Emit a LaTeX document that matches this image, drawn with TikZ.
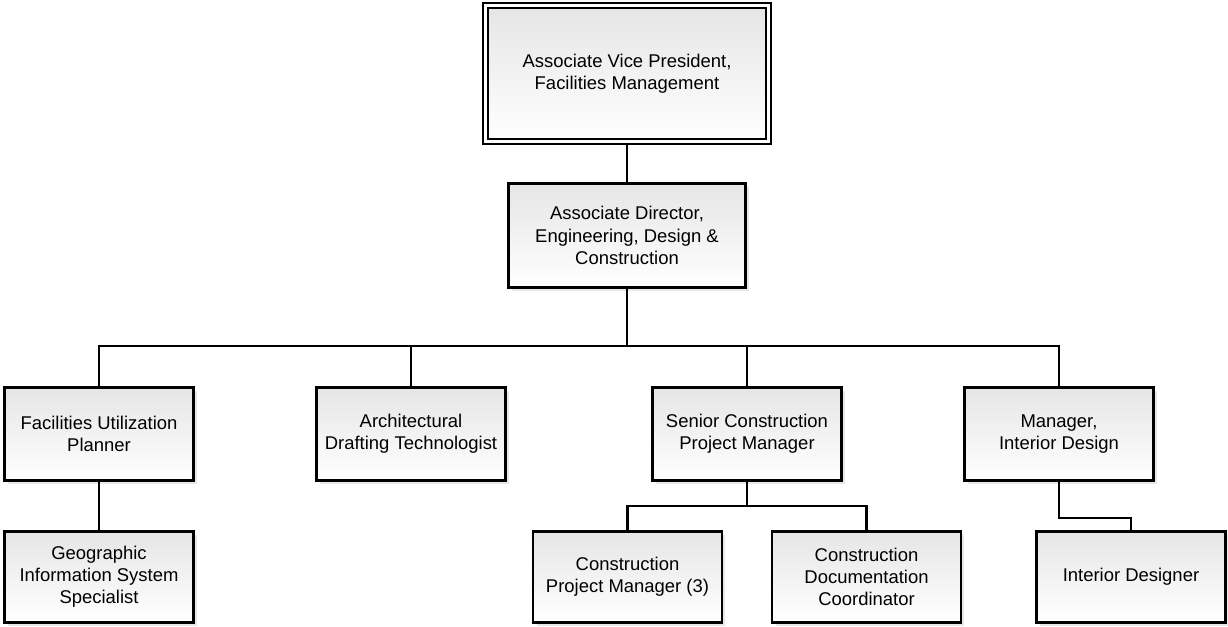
\documentclass[tikz,border=0pt]{standalone}
\usepackage{fontspec}
\setmainfont{Liberation Sans}
\usetikzlibrary{shadows}
\colorlet{box_top}{gray!20}
\colorlet{box_bottom}{white}
\colorlet{line_col}{black}
\tikzset{
  post/.style={draw=line_col, line width=1.6pt, top color=box_top, bottom color=box_bottom,
    align=center, font=\fontsize{10.5pt}{12.6pt}\selectfont, inner sep=2pt,
    minimum width=3.78cm, minimum height=1.86cm,
    drop shadow={shadow xshift=0.07cm, shadow yshift=-0.07cm, opacity=0.18}},
  head post/.style={double, line width=1.2pt, double distance=1.6pt,
    minimum width=5.66cm, minimum height=2.72cm},
  low post/.style={minimum height=1.82cm},
  link/.style={draw=line_col, line width=1.5pt},
}

\begin{document}
\begin{tikzpicture}[x=0.02cm, y=-0.02cm, line join=miter]
\useasboundingbox (0,0) rectangle (1228,626);

% Top of the chart
\node[post, head post] (avp) at (627,73.5) {Associate Vice President,\\Facilities Management};
\node[post, minimum width=4.74cm, minimum height=2.08cm] (ad) at (627,235.5) {Associate Director,\\Engineering, Design \&\\Construction};

%-----------------------------------------------
% Reports to the associate director
\node[post] (fup) at (99,434) {Facilities Utilization\\Planner};
\node[post] (adt) at (411,434) {Architectural\\Drafting Technologist};
\node[post] (scpm) at (747,434) {Senior Construction\\Project Manager};
\node[post] (mid) at (1059,434) {Manager,\\Interior Design};

%-----------------------------------------------
% Bottom row
\node[post, low post] (gis) at (99,577) {Geographic\\Information System\\Specialist};
\node[post, low post] (cpm) at (627.5,577) {Construction\\Project Manager (3)};
\node[post, low post] (cdc) at (866.5,577) {Construction\\Documentation\\Coordinator};
\node[post, low post] (ides) at (1131,577) {Interior Designer};

%-----------------------------------------------
% Connectors
\draw[link] (avp.south) -- (ad.north);
\draw[link] (ad.south) -- ++(0,57) coordinate (bus);
\foreach \n in {fup,adt,scpm,mid}
{
  \draw[link] (bus) -| (\n.north);
}
\draw[link] (fup.south) -- (gis.north);
\draw[link] (scpm.south) -- ++(0,24) coordinate (split);
\draw[link] (split) -| (cpm.north);
\draw[link] (split) -| (cdc.north);
\draw[link] (mid.south) -- ++(0,36) -| (ides.north);

\end{tikzpicture}
\end{document}
